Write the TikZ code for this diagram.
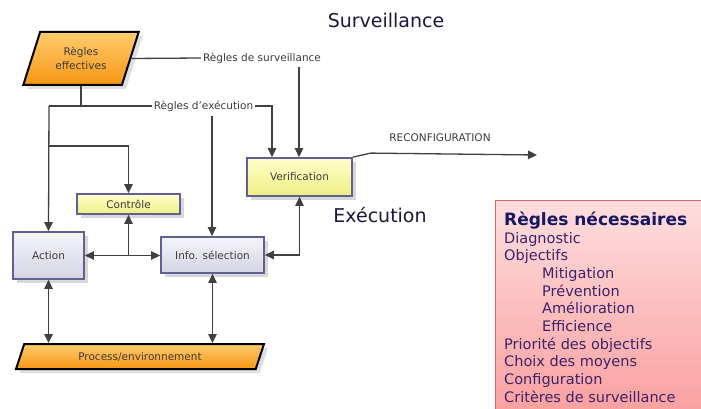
\documentclass[tikz,border=0pt]{standalone}
\usepackage{fontspec}
\setmainfont{DejaVu Sans}
\usetikzlibrary{shapes.geometric,arrows.meta,shadows}
\definecolor{linegray}{RGB}{64,64,64}
\definecolor{boxborder}{RGB}{96,96,150}
\definecolor{textgray}{RGB}{60,60,60}
\definecolor{orangetop}{RGB}{255,204,110}
\definecolor{orangebot}{RGB}{247,150,20}
\definecolor{yellowtop}{RGB}{255,255,205}
\definecolor{yellowbot}{RGB}{238,238,130}
\definecolor{greytop}{RGB}{245,245,250}
\definecolor{greybot}{RGB}{212,212,228}
\definecolor{pinktop}{RGB}{255,222,222}
\definecolor{pinkbot}{RGB}{250,160,160}
\definecolor{pinkborder}{RGB}{215,105,105}
\definecolor{navy}{RGB}{22,22,100}
\definecolor{rulecolor}{RGB}{60,35,105}
\definecolor{titlecolor}{RGB}{30,22,60}
\begin{document}
\begin{tikzpicture}[x=1pt,y=-1pt]
        \tikzset{bloc/.style = {rectangle,draw=boxborder,line width=1.8pt,inner sep=0pt,
          font=\fontsize{10.5}{12}\selectfont,text=textgray,
          drop shadow={shadow xshift=4pt,shadow yshift=-4pt,fill=black!22,opacity=0.7}}}
        \tikzset{greybloc/.style = {bloc,top color=greytop,bottom color=greybot}}
        \tikzset{yellowbloc/.style = {bloc,top color=yellowtop,bottom color=yellowbot}}
        \tikzset{para/.style = {trapezium,trapezium stretches=true,draw=black,line width=2pt,
          inner sep=0pt,top color=orangetop,bottom color=orangebot,
          font=\fontsize{10.5}{14}\selectfont,text=textgray,align=center,
          drop shadow={shadow xshift=4pt,shadow yshift=-4pt,fill=black!18,opacity=0.7}}}
        \tikzset{flowlabel/.style = {inner sep=2pt,font=\fontsize{10.5}{12}\selectfont,text=textgray}}
        \tikzset{title/.style = {inner sep=0pt,font=\fontsize{19}{22}\selectfont,text=titlecolor}}
        \tikzset{flow/.style = {draw=linegray,line width=1.3pt,>={Triangle[length=9pt,width=8.5pt]}}}
        \useasboundingbox (0,0) rectangle (701,409);
        % list of rules on the right
        \path[draw=pinkborder,line width=1pt,top color=pinktop,bottom color=pinkbot] (495,200) rectangle (704,412);
        \node[anchor=north west,inner sep=0pt,align=left,text=rulecolor,
          font=\fontsize{14.5}{17.7}\selectfont] (rules) at (504,211.5)
          {{\color{navy}\fontsize{17}{17.7}\selectfont\bfseries Règles nécessaires}\\
           Diagnostic\\
           Objectifs\\
           \hspace*{38pt}Mitigation\\
           \hspace*{38pt}Prévention\\
           \hspace*{38pt}Amélioration\\
           \hspace*{38pt}Efficience\\
           Priorité des objectifs\\
           Choix des moyens\\
           Configuration\\
           Critères de surveillance};
        % titles
        \node[title] (surv) at (386,20) {Surveillance};
        \node[title] (exec) at (380,215) {Exécution};
        % blocks
        \node[para,minimum width=116pt,minimum height=53pt,
          trapezium left angle=65,trapezium right angle=115] (reff) at (81,58.5) {Règles\\effectives};
        \node[para,minimum width=248pt,minimum height=25pt,
          trapezium left angle=64,trapezium right angle=116] (proc) at (140,356.5) {Process/environnement};
        \node[greybloc,minimum width=71pt,minimum height=47pt] (action) at (48.5,255.5) {Action};
        \node[greybloc,minimum width=103pt,minimum height=36pt] (info) at (212.5,255) {Info. sélection};
        \node[yellowbloc,minimum width=103pt,minimum height=20pt] (ctrl) at (128.5,204) {Contrôle};
        \node[yellowbloc,minimum width=105pt,minimum height=38pt] (verif) at (299.5,177) {Verification};
        % labels on the rule lines
        \node[flowlabel] (rsurv) at (262,58) {Règles de surveillance};
        \node[flowlabel] (rexec) at (203.5,106) {Règles d’exécution};
        \node[flowlabel] (reconf) at (440,138) {RECONFIGURATION};
        \coordinate (survtop) at (299,67);
        \coordinate (exectop) at (212,116);
        \coordinate (split) at (49,106);
        \coordinate (ctrlsplit) at (49,146);
        \coordinate (reconfend) at (537,155);
        % rules going down
        \draw[flow] (reff.east) -- (rsurv.west);
        \draw[flow,->] (survtop) -- (survtop |- verif.north);
        \draw[flow] (reff.south) -- (reff.south |- split);
        \draw[flow] (split) -- (rexec.west);
        \draw[flow,->] (rexec.east) -- (272,106) -- (272,106 |- verif.north);
        \draw[flow,->] (exectop) -- (exectop |- info.north);
        \draw[flow,->] (split) -- (action.north);
        \draw[flow,->] (ctrlsplit) -| (ctrl.north);
        % links between the blocks
        \draw[flow,<->] (action.east) -- (action.east -| info.west);
        \draw[flow,->] (action.east -| ctrl.south) -- (ctrl.south);
        \draw[flow,<->] (info.east) -| (verif.south);
        \draw[flow,<->] (action.south) -- (action.south |- proc.north);
        \draw[flow,<->] (info.south) -- (info.south |- proc.north);
        \draw[flow,->] (verif.north east) -- ++(18,-4) -- (reconfend);
\end{tikzpicture}
\end{document}
